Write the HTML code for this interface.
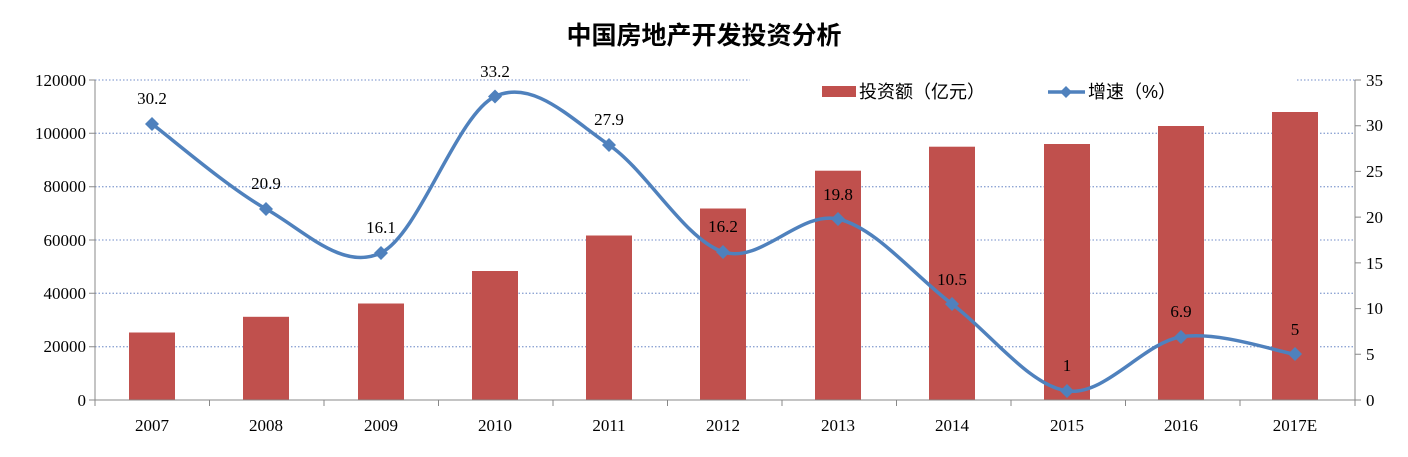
<!DOCTYPE html>
<html><head><meta charset="utf-8"><style>body{margin:0;background:#fff}</style></head><body>
<svg width="1408" height="452" xmlns="http://www.w3.org/2000/svg" font-family="'Liberation Serif','Noto Serif CJK SC',serif">
<rect width="1408" height="452" fill="#fff"/>
<text x="704" y="44" text-anchor="middle" font-family="'Liberation Sans','Noto Sans CJK SC',sans-serif" font-weight="bold" font-size="25" fill="#000">中国房地产开发投资分析</text>
<g stroke="#8fa5d4" stroke-width="1.3" stroke-dasharray="1.5,2">
<line x1="95" y1="80" x2="750" y2="80"/><line x1="1297" y1="80" x2="1355" y2="80"/>
<line x1="95" y1="133.3" x2="1355" y2="133.3"/>
<line x1="95" y1="186.7" x2="1355" y2="186.7"/>
<line x1="95" y1="240" x2="1355" y2="240"/>
<line x1="95" y1="293.3" x2="1355" y2="293.3"/>
<line x1="95" y1="346.7" x2="1355" y2="346.7"/>
</g>
<g fill="#c0504d">
<rect x="129" y="332.5" width="46" height="67.5"/>
<rect x="243" y="316.8" width="46" height="83.2"/>
<rect x="358" y="303.5" width="46" height="96.5"/>
<rect x="472" y="271" width="46" height="129"/>
<rect x="586" y="235.5" width="46" height="164.5"/>
<rect x="700" y="208.5" width="46" height="191.5"/>
<rect x="815" y="170.7" width="46" height="229.3"/>
<rect x="929" y="146.7" width="46" height="253.3"/>
<rect x="1044" y="144" width="46" height="256"/>
<rect x="1158" y="126" width="46" height="274"/>
<rect x="1272" y="112" width="46" height="288"/>
</g>
<g stroke="#888" stroke-width="1">
<line x1="95" y1="80" x2="95" y2="400"/><line x1="1355" y1="80" x2="1355" y2="400"/>
<line x1="95" y1="400" x2="1355" y2="400"/>
<path d="M89 80H95M89 133.3H95M89 186.7H95M89 240H95M89 293.3H95M89 346.7H95M89 400H95"/>
<path d="M1355 80h6M1355 125.7h6M1355 171.4h6M1355 217.1h6M1355 262.9h6M1355 308.6h6M1355 354.3h6M1355 400h6"/>
<path d="M95 400v6M209.5 400v6M324 400v6M438.5 400v6M553 400v6M667.5 400v6M782 400v6M896.5 400v6M1011 400v6M1125.5 400v6M1240 400v6M1355 400v6"/>
</g>
<g font-size="17" fill="#000" text-anchor="end">
<text x="86" y="86">120000</text><text x="86" y="139">100000</text><text x="86" y="192">80000</text><text x="86" y="246">60000</text><text x="86" y="299">40000</text><text x="86" y="352">20000</text><text x="86" y="406">0</text>
</g>
<g font-size="17" fill="#000">
<text x="1366" y="86">35</text><text x="1366" y="131">30</text><text x="1366" y="177">25</text><text x="1366" y="223">20</text><text x="1366" y="269">15</text><text x="1366" y="314">10</text><text x="1366" y="360">5</text><text x="1366" y="406">0</text>
</g>
<g font-size="17" fill="#000" text-anchor="middle">
<text x="152" y="431">2007</text><text x="266" y="431">2008</text><text x="381" y="431">2009</text><text x="495" y="431">2010</text><text x="609" y="431">2011</text><text x="723" y="431">2012</text><text x="838" y="431">2013</text><text x="952" y="431">2014</text><text x="1067" y="431">2015</text><text x="1181" y="431">2016</text><text x="1295" y="431">2017E</text>
</g>
<path fill="none" stroke="#4f81bd" stroke-width="3.5" d="M152 123.9C171 138.1 227.8 187.4 266 208.9C304.2 230.4 342.8 271.5 381 252.8C419.2 234.1 457 114.5 495 96.5C533 78.5 571 119 609 144.9C647 170.8 684.8 239.5 723 251.9C761.2 264.3 799.8 210.3 838 219C876.2 227.7 913.8 275.3 952 304C990.2 332.7 1028.8 385.4 1067 390.9C1105.2 396.4 1143 343 1181 336.9C1219 330.8 1276 351.4 1295 354.3"/>
<g fill="#4f81bd">
<path d="M152 117l7 7-7 7-7-7z"/><path d="M266 202l7 7-7 7-7-7z"/><path d="M381 246l7 7-7 7-7-7z"/><path d="M495 89.5l7 7-7 7-7-7z"/><path d="M609 138l7 7-7 7-7-7z"/><path d="M723 245l7 7-7 7-7-7z"/><path d="M838 212l7 7-7 7-7-7z"/><path d="M952 297l7 7-7 7-7-7z"/><path d="M1067 384l7 7-7 7-7-7z"/><path d="M1181 330l7 7-7 7-7-7z"/><path d="M1295 347l7 7-7 7-7-7z"/>
</g>
<g font-size="17" fill="#000" text-anchor="middle">
<text x="152" y="104">30.2</text><text x="266" y="189">20.9</text><text x="381" y="233">16.1</text><text x="495" y="77">33.2</text><text x="609" y="125">27.9</text><text x="723" y="232">16.2</text><text x="838" y="200">19.8</text><text x="952" y="285">10.5</text><text x="1067" y="371">1</text><text x="1181" y="317">6.9</text><text x="1295" y="335">5</text>
</g>
<rect x="822" y="86" width="34" height="11" fill="#c0504d"/>
<text x="859" y="98" font-size="18" font-family="'Liberation Sans','Noto Sans CJK SC',sans-serif">投资额（亿元）</text>
<line x1="1048" y1="92" x2="1085" y2="92" stroke="#4f81bd" stroke-width="3.5"/>
<path d="M1066 86l6 6-6 6-6-6z" fill="#4f81bd"/>
<text x="1088" y="98" font-size="18" font-family="'Liberation Sans','Noto Sans CJK SC',sans-serif">增速（%）</text>
</svg>
</body></html>
